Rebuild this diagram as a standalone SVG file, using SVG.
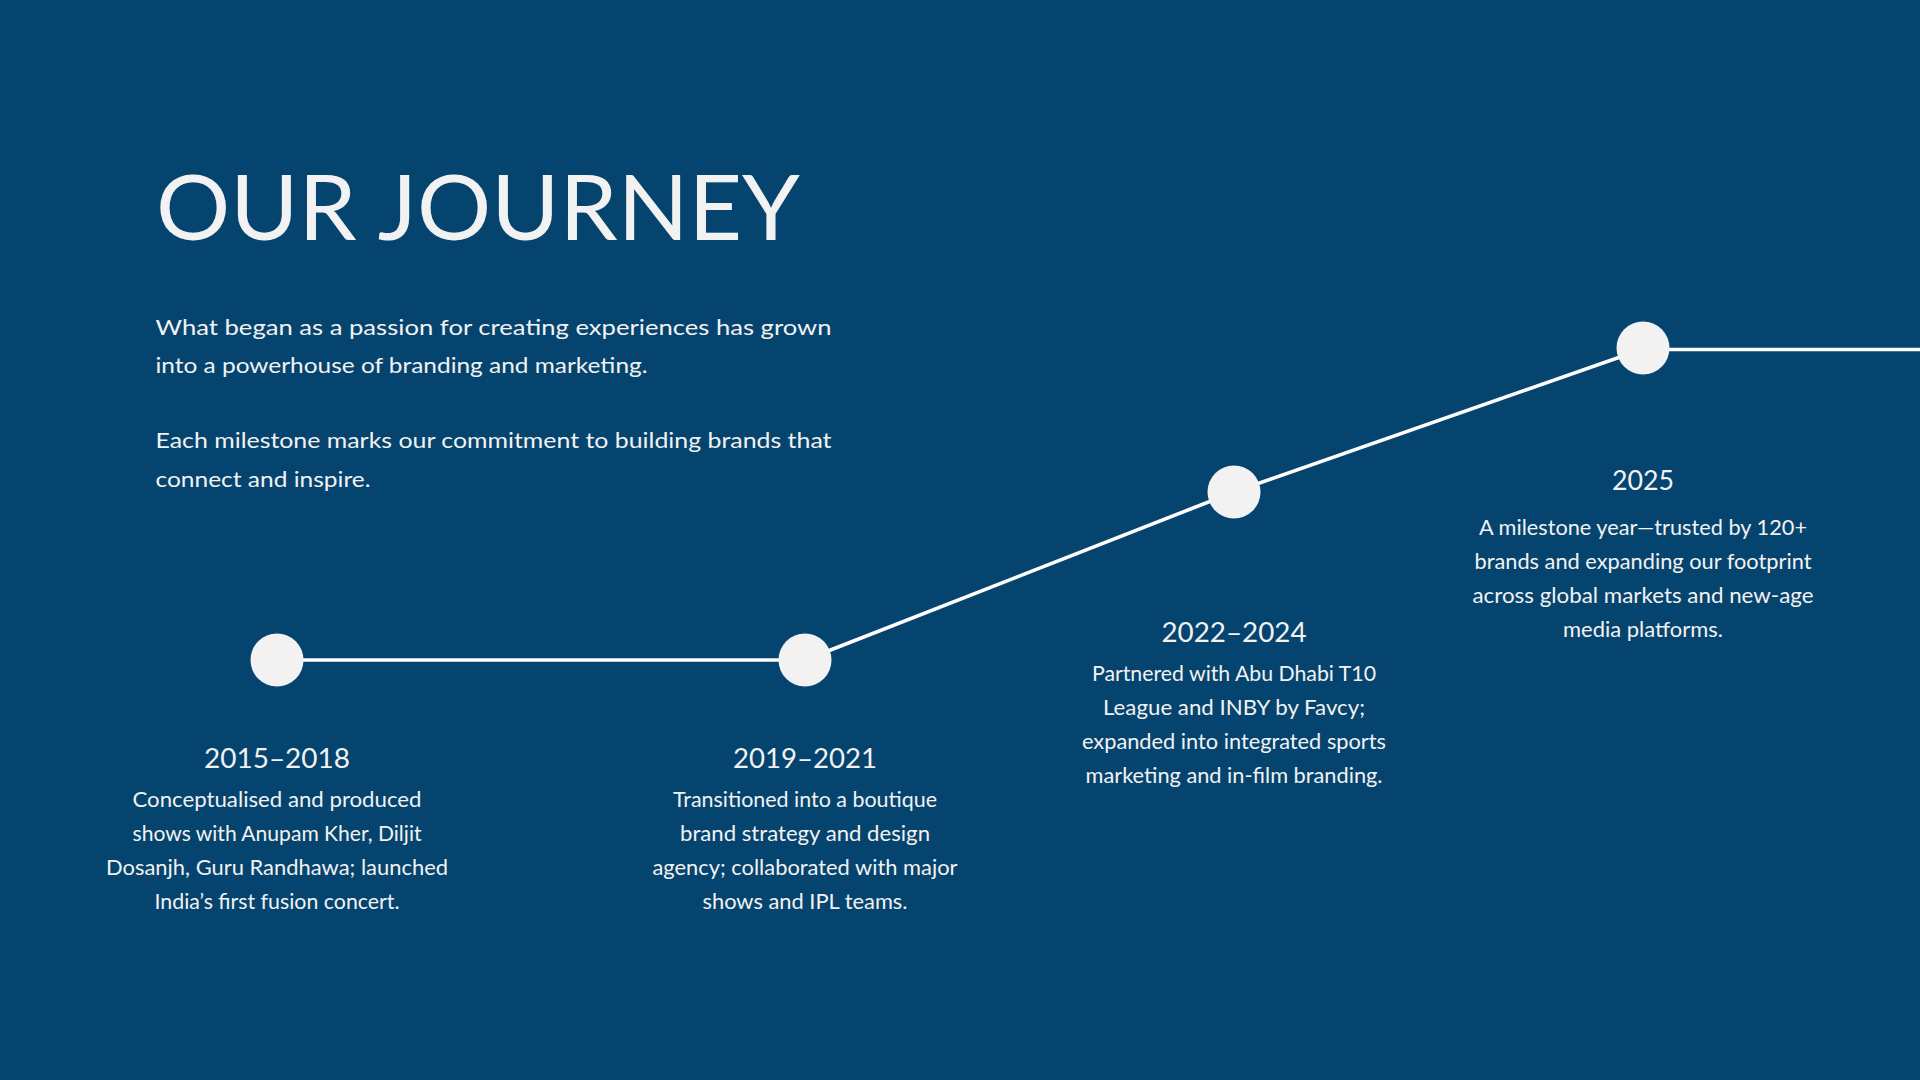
<svg xmlns="http://www.w3.org/2000/svg" width="1920" height="1080" viewBox="0 0 1920 1080">
<style>
text{font-family:Lato,"Open Sans","Liberation Sans",sans-serif;fill:#F2F2F2}
.title{font-size:91px;font-weight:400}
.intro{font-size:21.5px}
.year{font-size:27px;text-anchor:middle}
.desc{font-size:20.3px;text-anchor:middle}
.dot{fill:#F2F2F2}
.conn{stroke:#FFFFFF;stroke-width:3.6;fill:none}
</style>
<rect width="1920" height="1080" fill="#05446F"/>
<g id="header">
<text class="title" x="156" y="240" textLength="644" lengthAdjust="spacingAndGlyphs">OUR JOURNEY</text>
<text class="intro" x="155.5" y="335" textLength="676" lengthAdjust="spacingAndGlyphs">What began as a passion for creating experiences has grown</text>
<text class="intro" x="155.5" y="373" textLength="492" lengthAdjust="spacingAndGlyphs">into a powerhouse of branding and marketing.</text>
<text class="intro" x="155.5" y="448" textLength="676" lengthAdjust="spacingAndGlyphs">Each milestone marks our commitment to building brands that</text>
<text class="intro" x="155.5" y="487" textLength="215" lengthAdjust="spacingAndGlyphs">connect and inspire.</text>
</g>
<g id="connectors">
<line class="conn" x1="277" y1="660" x2="805" y2="660"/>
<line class="conn" x1="805" y1="660" x2="1234" y2="492"/>
<line class="conn" x1="1234" y1="492" x2="1643" y2="349"/>
<line class="conn" x1="1643" y1="349.5" x2="1920" y2="349.5"/>
</g>
<g id="m2015">
<circle class="dot" cx="277" cy="660" r="26.5"/>
<text class="year" x="277" y="768" textLength="146" lengthAdjust="spacingAndGlyphs">2015–2018</text>
<text class="desc" x="277" y="807" textLength="289" lengthAdjust="spacingAndGlyphs">Conceptualised and produced</text>
<text class="desc" x="277" y="841" textLength="289" lengthAdjust="spacingAndGlyphs">shows with Anupam Kher, Diljit</text>
<text class="desc" x="277" y="875" textLength="342" lengthAdjust="spacingAndGlyphs">Dosanjh, Guru Randhawa; launched</text>
<text class="desc" x="277" y="909" textLength="245" lengthAdjust="spacingAndGlyphs">India’s first fusion concert.</text>
</g>
<g id="m2019">
<circle class="dot" cx="805" cy="660" r="26.5"/>
<text class="year" x="805" y="768" textLength="144" lengthAdjust="spacingAndGlyphs">2019–2021</text>
<text class="desc" x="805" y="807" textLength="264" lengthAdjust="spacingAndGlyphs">Transitioned into a boutique</text>
<text class="desc" x="805" y="841" textLength="250" lengthAdjust="spacingAndGlyphs">brand strategy and design</text>
<text class="desc" x="805" y="875" textLength="305" lengthAdjust="spacingAndGlyphs">agency; collaborated with major</text>
<text class="desc" x="805" y="909" textLength="205" lengthAdjust="spacingAndGlyphs">shows and IPL teams.</text>
</g>
<g id="m2022">
<circle class="dot" cx="1234" cy="492" r="26.5"/>
<text class="year" x="1234" y="642" textLength="145" lengthAdjust="spacingAndGlyphs">2022–2024</text>
<text class="desc" x="1234" y="681" textLength="284" lengthAdjust="spacingAndGlyphs">Partnered with Abu Dhabi T10</text>
<text class="desc" x="1234" y="715" textLength="262" lengthAdjust="spacingAndGlyphs">League and INBY by Favcy;</text>
<text class="desc" x="1234" y="749" textLength="304" lengthAdjust="spacingAndGlyphs">expanded into integrated sports</text>
<text class="desc" x="1234" y="783" textLength="297" lengthAdjust="spacingAndGlyphs">marketing and in-film branding.</text>
</g>
<g id="m2025">
<circle class="dot" cx="1643" cy="348" r="26.5"/>
<text class="year" x="1643" y="490" textLength="62" lengthAdjust="spacingAndGlyphs">2025</text>
<text class="desc" x="1643" y="535" textLength="328" lengthAdjust="spacingAndGlyphs">A milestone year—trusted by 120+</text>
<text class="desc" x="1643" y="569" textLength="337" lengthAdjust="spacingAndGlyphs">brands and expanding our footprint</text>
<text class="desc" x="1643" y="603" textLength="341" lengthAdjust="spacingAndGlyphs">across global markets and new-age</text>
<text class="desc" x="1643" y="637" textLength="160" lengthAdjust="spacingAndGlyphs">media platforms.</text>
</g>
</svg>
